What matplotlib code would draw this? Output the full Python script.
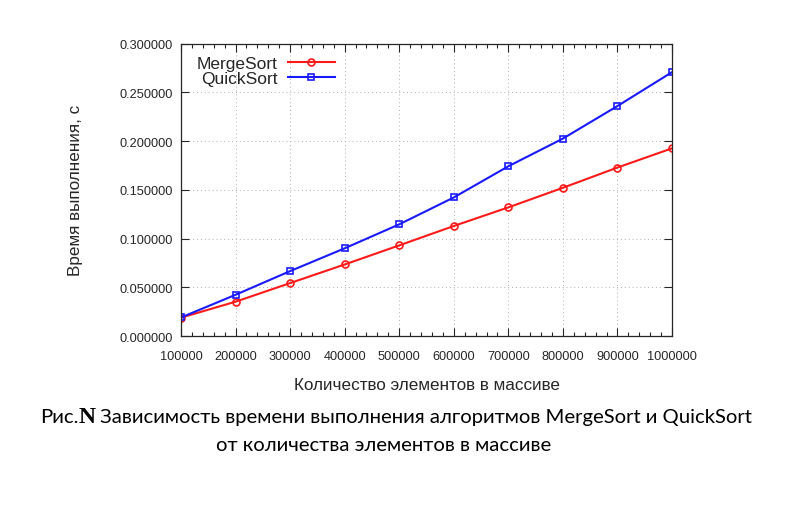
import matplotlib
matplotlib.use("Agg")
import matplotlib.pyplot as plt
from matplotlib.ticker import MultipleLocator, AutoMinorLocator, FormatStrFormatter

# array sizes and measured times (s)
sizes = [100000, 200000, 300000, 400000, 500000, 600000, 700000, 800000, 900000, 1000000]
merge_t = [0.0188, 0.0352, 0.0543, 0.0734, 0.0930, 0.1129, 0.1320, 0.1521, 0.1729, 0.1926]
quick_t = [0.0190, 0.0423, 0.0666, 0.0900, 0.1146, 0.1422, 0.1742, 0.2026, 0.2360, 0.2708]

CHART_FONT = "Liberation Sans"
CAP_FONT = "Lato"
INK = "#262626"

fig = plt.figure(figsize=(7.99, 5.06), dpi=100)
ax = fig.add_axes([181 / 799, 1 - 337 / 506, (672 - 181) / 799, (337 - 44.7) / 506])

ax.plot(sizes, merge_t, color="#ff1a1a", lw=1.5, marker="o", ms=5, mfc="none",
        mew=1.2, label="MergeSort")
ax.plot(sizes, quick_t, color="#1a1aff", lw=1.5, marker="s", ms=5, mfc="none",
        mew=1.2, label="QuickSort")

ax.set_xlim(100000, 1000000)
ax.set_ylim(0, 0.3)
ax.xaxis.set_major_locator(MultipleLocator(100000))
ax.xaxis.set_minor_locator(AutoMinorLocator(5))
ax.xaxis.set_major_formatter(FormatStrFormatter("%d"))
ax.yaxis.set_major_locator(MultipleLocator(0.05))
ax.yaxis.set_major_formatter(FormatStrFormatter("%.6f"))
ax.tick_params(which="both", direction="in", top=True, right=True, colors=INK,
               labelsize=9.2, width=0.8)
ax.tick_params(which="major", length=6, pad=6)
ax.tick_params(axis="x", which="major", pad=10)
ax.tick_params(which="minor", length=3)
for lab in ax.get_xticklabels() + ax.get_yticklabels():
    lab.set_family(CHART_FONT)
for s in ax.spines.values():
    s.set_color(INK); s.set_linewidth(0.9)
ax.grid(True, which="major", ls=(0, (1, 3)), color="#b0b0b0", lw=0.7)

ax.set_xlabel("Количество элементов в массиве", family=CHART_FONT, fontsize=12.3,
              color=INK, labelpad=11)
ax.set_ylabel("Время выполнения, с", family=CHART_FONT, fontsize=12.3,
              color=INK, labelpad=26)

leg = ax.legend(loc="upper left", bbox_to_anchor=(0.0, 1.013), frameon=False,
                markerfirst=False, handlelength=2.7, handletextpad=0.6,
                labelspacing=0.0, prop={"family": CHART_FONT, "size": 12.5})
for t in leg.get_texts():
    t.set_color(INK)
    t.set_ha("right")

# caption: "Рис." + bold serif "N" + text, second line centred
renderer = fig.canvas.get_renderer()
y1 = 1 - 423 / 506
parts = [("Рис.", CAP_FONT, "normal", 14.6),
         ("N", "Liberation Serif", "bold", 17),
         (" Зависимость времени выполнения алгоритмов MergeSort и QuickSort", CAP_FONT, "normal", 14.6)]
x = 40 / 799
for txt, fam, wt, sz in parts:
    t = fig.text(x, y1, txt, family=fam, weight=wt, fontsize=sz, color="black",
                 va="baseline")
    bb = t.get_window_extent(renderer)
    x += bb.width / fig.bbox.width
fig.text(384 / 799, 1 - 451 / 506, "от количества элементов в массиве", family=CAP_FONT,
         fontsize=14.6, color="black", ha="center", va="baseline")

fig.savefig("out.png", dpi=100)
